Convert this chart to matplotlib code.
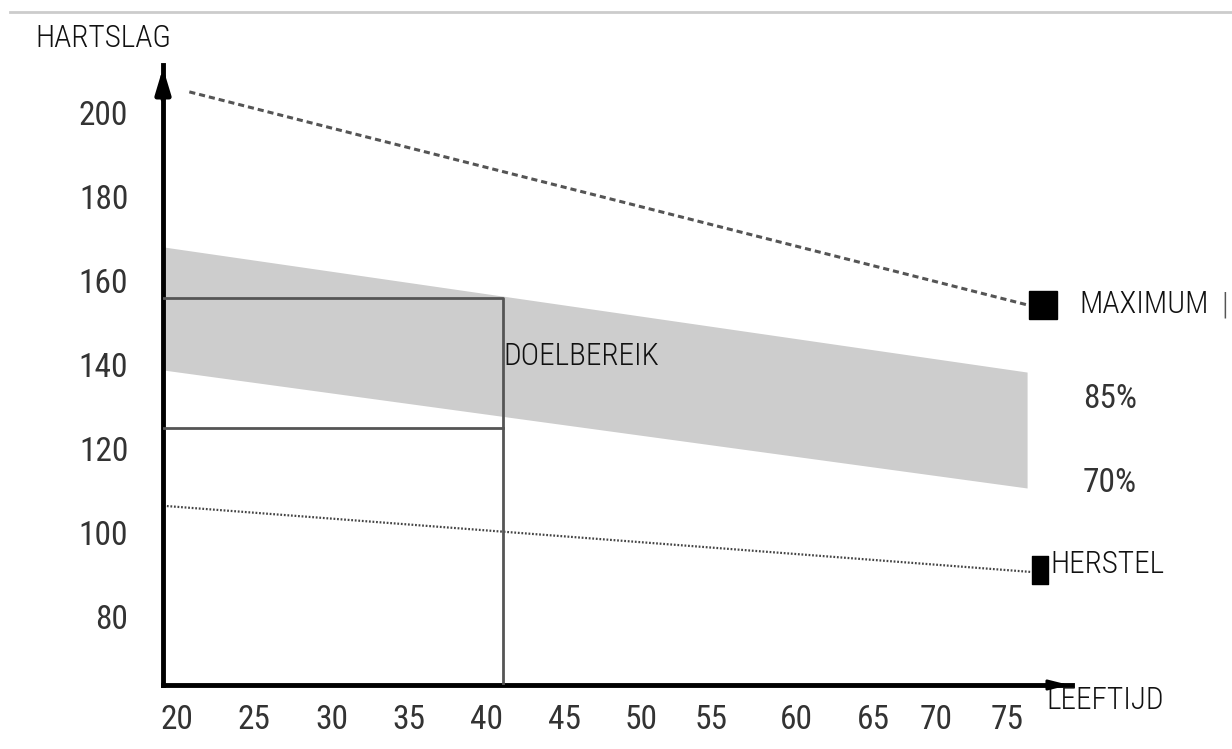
import matplotlib
matplotlib.use("Agg")
import matplotlib.pyplot as plt
from matplotlib import font_manager
from matplotlib.path import Path

# pick a narrow face if one is installed
installed = {f.name for f in font_manager.fontManager.ttflist}
narrow = [n for n in ['Roboto Condensed', 'Liberation Sans Narrow', 'Open Sans Condensed',
                      'Noto Sans Condensed', 'Roboto', 'Liberation Sans'] if n in installed]
plt.rcParams['font.family'] = narrow[:1] + ['DejaVu Sans']

# data (age in years, heart rate in bpm)
age_ticks = [20, 25, 30, 35, 40, 45, 50, 54.5, 60, 65, 69, 73.6]
age_labels = ['20', '25', '30', '35', '40', '45', '50', '55', '60', '65', '70', '75']
hr_ticks = [80, 100, 120, 140, 160, 180, 200]

max_age = [20.8, 74.9]
max_hr = [205.0, 154.3]
max_marker = (75.9, 154.3)

zone_age = [19.1, 74.9]
zone_85 = [168.1, 138.3]
zone_70 = [138.8, 110.7]

rec_age = [19.35, 75.2]
rec_hr = [106.4, 90.7]
rec_marker = (75.75, 91.2)

target_age = 41.06
target_top = 156.0
target_bottom = 125.0

x_min, x_max = 19.1, 77.8
y_min, y_max = 63.8, 211.4

fig = plt.figure(figsize=(12.32, 7.49), dpi=100)
ax = fig.add_axes([163 / 1232, 64 / 749, (1072 - 163) / 1232, (685 - 65) / 749])
ax.set_xlim(x_min, x_max)
ax.set_ylim(y_min, y_max)

# top grey rule of the page
fig.add_artist(plt.Line2D([10 / 1232, 1], [1 - 12 / 749, 1 - 12 / 749], color='#cccccc', lw=2))

# target zone band
ax.fill_between(zone_age, zone_70, zone_85, color='#cdcdcd', lw=0, zorder=1)

# target range box for age 41
ax.plot([x_min, target_age, target_age], [target_top, target_top, y_min], color='#555555', lw=2, zorder=3)
ax.plot([x_min, target_age], [target_bottom, target_bottom], color='#555555', lw=2, zorder=3)

lab = dict(fontsize=22.5, color='#111111', va='center', ha='left', fontweight='light')
num = dict(fontsize=24, color='#333333', va='center', ha='left')

ax.text(target_age + 0.05, 141.9, 'DOELBEREIK', **lab)

# maximum heart rate
ax.plot(max_age, max_hr, color='#555555', lw=2.2, ls=(0, (2.0, 1.3)), zorder=2)
ax.plot(*max_marker, marker='s', ms=19.5, color='black', clip_on=False, zorder=4)

# recovery line
ax.plot(rec_age, rec_hr, color='#444444', lw=1.6, ls=(0, (0.8, 0.8)), zorder=2)
tall = Path([(-0.3, -0.5), (0.3, -0.5), (0.3, 0.5), (-0.3, 0.5), (-0.3, -0.5)],
            [Path.MOVETO, Path.LINETO, Path.LINETO, Path.LINETO, Path.CLOSEPOLY])
ax.plot(*rec_marker, marker=tall, ms=19.5, color='black', clip_on=False, zorder=4)

# labels on the right
ax.text(78.27, 154.3, 'MAXIMUM', **lab)
ax.text(87.44, 154.3, '|', fontsize=22, color='#555555', va='center', ha='left', fontweight='light')
ax.text(78.5, 131.9, '85%', **num)
ax.text(78.5, 111.9, '70%', **num)
ax.text(76.4, 92.4, 'HERSTEL', **lab)
ax.text(76.14, 60.2, 'LEEFTIJD', **lab)
ax.text(10.83, 217.6, 'HARTSLAG', **lab)

# axes with arrows
for s in ['top', 'right']:
    ax.spines[s].set_visible(False)
for s in ['left', 'bottom']:
    ax.spines[s].set_linewidth(3.5)
    ax.spines[s].set_color('black')
ax.annotate('', xy=(0, 1), xycoords='axes fraction', xytext=(0, 0.94),
            arrowprops=dict(arrowstyle='-|>,head_length=1.5,head_width=0.45', color='black', lw=3.5))
ax.annotate('', xy=(1, 0), xycoords='axes fraction', xytext=(0.97, 0),
            arrowprops=dict(arrowstyle='-|>,head_length=1.2,head_width=0.3', color='black', lw=2))

ax.set_xticks(age_ticks)
ax.set_xticklabels(age_labels)
ax.set_yticks(hr_ticks)
ax.tick_params(axis='both', length=0, labelsize=24, labelcolor='#333333')
ax.tick_params(axis='y', pad=25)
ax.tick_params(axis='x', pad=14)
ax.set_facecolor('none')

fig.savefig('out.png', dpi=100)
